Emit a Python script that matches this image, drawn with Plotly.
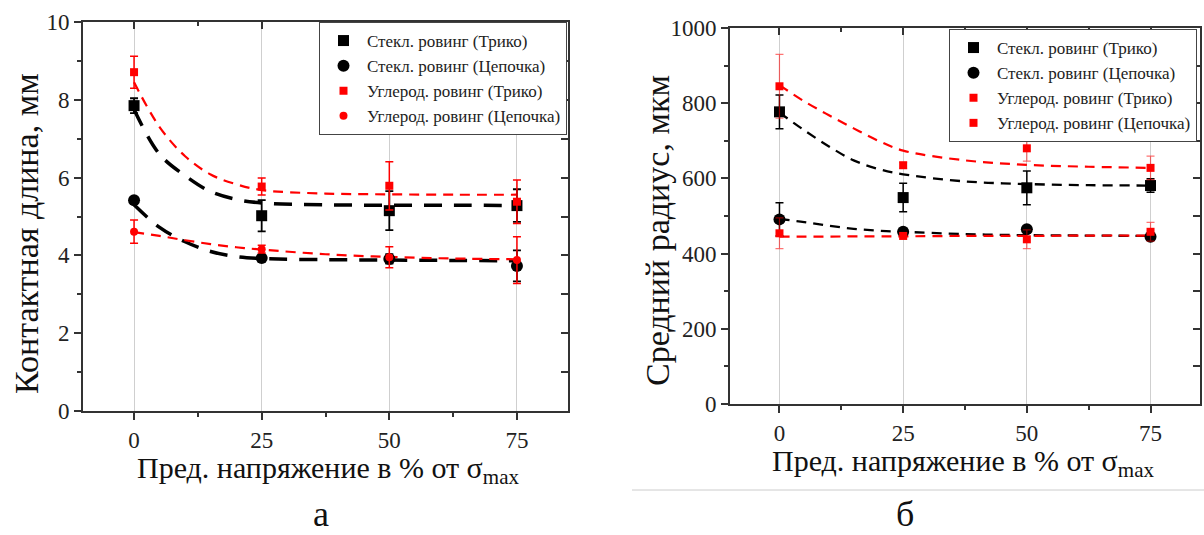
import plotly.graph_objects as go

# ---------------- data ----------------
X = [0, 25, 50, 75]
FIT_X = [0, 5, 10, 15, 20, 25, 37.5, 50, 62.5, 75]

LEGEND_NAMES = ["Стекл. ровинг (Трико)", "Стекл. ровинг (Цепочка)",
                "Углерод. ровинг (Трико)", "Углерод. ровинг (Цепочка)"]

# (а) contact length, mm
a_glass_tricot = [7.85, 5.02, 5.15, 5.28]
a_glass_tricot_err = [0.19, 0.40, 0.50, 0.42]
a_glass_chain = [5.42, 3.93, 3.91, 3.73]
a_glass_chain_err = [0.08, 0.05, 0.12, 0.40]
a_carbon_tricot = [8.71, 5.77, 5.79, 5.38]
a_carbon_tricot_err = [0.41, 0.22, 0.62, 0.56]
a_carbon_chain = [4.61, 4.16, 3.95, 3.88]
a_carbon_chain_err = [0.30, 0.10, 0.27, 0.60]

a_fit_glass_tricot = [7.75, 6.6, 6.05, 5.64, 5.44, 5.35, 5.3, 5.29, 5.29, 5.28]
a_fit_glass_chain = [5.3, 4.72, 4.35, 4.1, 3.97, 3.92, 3.89, 3.88, 3.87, 3.86]
a_fit_carbon_tricot = [8.45, 7.3, 6.55, 6.08, 5.83, 5.68, 5.59, 5.57, 5.56, 5.56]
a_fit_carbon_chain = [4.6, 4.5, 4.39, 4.29, 4.21, 4.15, 4.03, 3.96, 3.92, 3.9]

# (б) mean radius, µm
b_glass_tricot = [777, 549, 575, 581]
b_glass_tricot_err = [45, 38, 45, 18]
b_glass_chain = [491, 458, 465, 445]
b_glass_chain_err = [44, 8, 8, 8]
b_carbon_tricot = [845, 635, 680, 628]
b_carbon_tricot_err = [85, 8, 34, 31]
b_carbon_chain = [454, 447, 438, 458]
b_carbon_chain_err = [41, 8, 25, 25]

b_fit_glass_tricot = [775, 728, 685, 648, 625, 611, 592, 585, 582, 581]
b_fit_glass_chain = [492, 484, 474, 466, 461, 458, 452, 449, 448, 447]
b_fit_carbon_tricot = [848, 805, 768, 733, 700, 674, 648, 636, 631, 628]
b_fit_carbon_chain = [445, 445, 445, 446, 446, 446, 447, 447, 448, 448]

X_TICKS = [0, 25, 50, 75]
A_Y_TICKS = [0, 2, 4, 6, 8, 10]
B_Y_TICKS = [0, 200, 400, 600, 800, 1000]

FONT = "Liberation Serif, Times New Roman, serif"
BLACK = "#000000"
RED = "#ff0000"

fig = go.Figure()


def add_fit(x, y, xa, ya, color, width, dash):
    fig.add_trace(go.Scatter(x=x, y=y, mode="lines", xaxis=xa, yaxis=ya,
                             line=dict(color=color, width=width, dash=dash, shape="spline"),
                             showlegend=False, hoverinfo="skip"))


def add_pts(y, err, xa, ya, name, color, symbol, size, errcolor, errw, legend):
    fig.add_trace(go.Scatter(x=X, y=y, mode="markers", xaxis=xa, yaxis=ya, name=name,
                             marker=dict(color=color, symbol=symbol, size=size),
                             error_y=dict(type="data", array=err, color=errcolor,
                                          thickness=errw, width=4),
                             legend=legend))


# ---- panel а ----
add_fit(FIT_X, a_fit_glass_tricot, "x", "y", BLACK, 3.5, "18px,12px")
add_fit(FIT_X, a_fit_glass_chain, "x", "y", BLACK, 3.5, "18px,12px")
add_fit(FIT_X, a_fit_carbon_tricot, "x", "y", RED, 2.2, "10px,7px")
add_fit(FIT_X, a_fit_carbon_chain, "x", "y", RED, 2.2, "10px,7px")
add_pts(a_glass_tricot, a_glass_tricot_err, "x", "y", LEGEND_NAMES[0], BLACK, "square", 11, BLACK, 1.8, "legend")
add_pts(a_glass_chain, a_glass_chain_err, "x", "y", LEGEND_NAMES[1], BLACK, "circle", 12, BLACK, 1.8, "legend")
add_pts(a_carbon_tricot, a_carbon_tricot_err, "x", "y", LEGEND_NAMES[2], RED, "square", 8, RED, 1.5, "legend")
add_pts(a_carbon_chain, a_carbon_chain_err, "x", "y", LEGEND_NAMES[3], RED, "circle", 8, RED, 1.5, "legend")

# ---- panel б ----
add_fit(FIT_X, b_fit_glass_tricot, "x2", "y2", BLACK, 2.3, "10px,7px")
add_fit(FIT_X, b_fit_glass_chain, "x2", "y2", BLACK, 2.3, "10px,7px")
add_fit(FIT_X, b_fit_carbon_tricot, "x2", "y2", RED, 2.2, "10px,7px")
add_fit(FIT_X, b_fit_carbon_chain, "x2", "y2", RED, 2.2, "10px,7px")
add_pts(b_glass_tricot, b_glass_tricot_err, "x2", "y2", LEGEND_NAMES[0], BLACK, "square", 11, BLACK, 1.5, "legend2")
add_pts(b_glass_chain, b_glass_chain_err, "x2", "y2", LEGEND_NAMES[1], BLACK, "circle", 12, BLACK, 1.5, "legend2")
add_pts(b_carbon_tricot, b_carbon_tricot_err, "x2", "y2", LEGEND_NAMES[2], RED, "square", 8,
        "rgba(255,0,0,0.55)", 1.2, "legend2")
add_pts(b_carbon_chain, b_carbon_chain_err, "x2", "y2", LEGEND_NAMES[3], RED, "square", 8,
        "rgba(255,0,0,0.55)", 1.2, "legend2")

AX_COLOR = "#333333"
TICKFONT = dict(family=FONT, size=23, color="#222")


def xaxis(domain, anchor):
    return dict(domain=domain, anchor=anchor, range=[-10, 85], tickvals=X_TICKS,
                ticks="outside", ticklen=7, tickwidth=2, tickcolor=AX_COLOR,
                minor=dict(tickvals=[12.5, 37.5, 62.5], ticks="outside", ticklen=4,
                           tickwidth=2, tickcolor=AX_COLOR),
                showline=True, linecolor=AX_COLOR, linewidth=2, mirror=True,
                showgrid=True, gridcolor="#cfcfcf", gridwidth=1, zeroline=False,
                tickfont=TICKFONT, fixedrange=True, automargin=False)


def yaxis(domain, anchor, rng, tickvals, minorvals):
    return dict(domain=domain, anchor=anchor, range=rng, tickvals=tickvals,
                ticks="outside", ticklen=7, tickwidth=2, tickcolor=AX_COLOR,
                minor=dict(tickvals=minorvals, ticks="outside", ticklen=4,
                           tickwidth=2, tickcolor=AX_COLOR),
                showline=True, linecolor=AX_COLOR, linewidth=2, mirror=True,
                showgrid=False, zeroline=False, tickfont=TICKFONT, fixedrange=True,
                automargin=False)


def x_top(overlay, anchor):
    return dict(overlaying=overlay, anchor=anchor, side="top", range=[-10, 85],
                tickvals=X_TICKS, ticks="inside", ticklen=7, tickwidth=2, tickcolor=AX_COLOR,
                minor=dict(tickvals=[12.5, 37.5, 62.5], ticks="inside", ticklen=4,
                           tickwidth=2, tickcolor=AX_COLOR),
                showticklabels=False, showgrid=False, showline=False, zeroline=False,
                fixedrange=True, automargin=False)


def y_right(overlay, anchor, rng, tickvals, minorvals):
    return dict(overlaying=overlay, anchor=anchor, side="right", range=rng,
                tickvals=tickvals, ticks="inside", ticklen=7, tickwidth=2, tickcolor=AX_COLOR,
                minor=dict(tickvals=minorvals, ticks="inside", ticklen=7,
                           tickwidth=2, tickcolor=AX_COLOR),
                showticklabels=False, showgrid=False, showline=False, zeroline=False,
                fixedrange=True, automargin=False)


A_DOM_X = [83 / 1204, 568 / 1204]
A_DOM_Y = [1 - 411 / 535, 1 - 22 / 535]
B_DOM_X = [730 / 1204, 1200 / 1204]
B_DOM_Y = [1 - 404 / 535, 1 - 28 / 535]

# dummy traces so overlay axes get drawn
fig.add_trace(go.Scatter(x=[None], y=[None], xaxis="x3", yaxis="y3", showlegend=False))
fig.add_trace(go.Scatter(x=[None], y=[None], xaxis="x4", yaxis="y4", showlegend=False))

LEGEND_STYLE = dict(font=dict(family=FONT, size=17, color="#222"), bgcolor="white",
                    bordercolor="#444", borderwidth=1, xanchor="right", yanchor="top",
                    tracegroupgap=0, itemwidth=37)

fig.update_layout(
    width=1204, height=535, margin=dict(l=0, r=0, t=0, b=0),
    paper_bgcolor="white", plot_bgcolor="white",
    xaxis=xaxis(A_DOM_X, "y"),
    yaxis=yaxis(A_DOM_Y, "x", [0, 10], A_Y_TICKS, [1, 3, 5, 7, 9]),
    xaxis2=xaxis(B_DOM_X, "y2"),
    yaxis2=yaxis(B_DOM_Y, "x2", [0, 1000], B_Y_TICKS, [100, 300, 500, 700, 900]),
    xaxis3=x_top("x", "y"),
    yaxis3=y_right("y", "x", [0, 10], A_Y_TICKS, [1, 3, 5, 7, 9]),
    xaxis4=x_top("x2", "y2"),
    yaxis4=y_right("y2", "x2", [0, 1000], B_Y_TICKS, [100, 300, 500, 700, 900]),
    legend=dict(x=567 / 1204, y=1 - 22 / 535, **LEGEND_STYLE),
    legend2=dict(x=1197 / 1204, y=1 - 29 / 535, **LEGEND_STYLE),
    font=dict(family=FONT),
)


def ann(text, x, y, size, angle=0):
    fig.add_annotation(text=text, textangle=angle, x=x / 1204, y=1 - y / 535,
                       xref="paper", yref="paper", xanchor="center", yanchor="middle",
                       showarrow=False, font=dict(family=FONT, size=size, color="#111"))


ann("Контактная длина, мм", 26, 234, 34, -90)
ann("Средний радиус, мкм", 657, 231, 34, -90)
ann("Пред. напряжение в % от σ<sub>max</sub>", 328, 470, 30)
ann("Пред. напряжение в % от σ<sub>max</sub>", 963, 463, 30)
ann("а", 321, 514, 36)
ann("б", 905, 514, 36)

fig.add_shape(type="line", xref="paper", yref="paper", x0=632 / 1204, x1=1,
              y0=1 - 490 / 535, y1=1 - 490 / 535, line=dict(color="#cccccc", width=1))

fig.write_html("out.html")
